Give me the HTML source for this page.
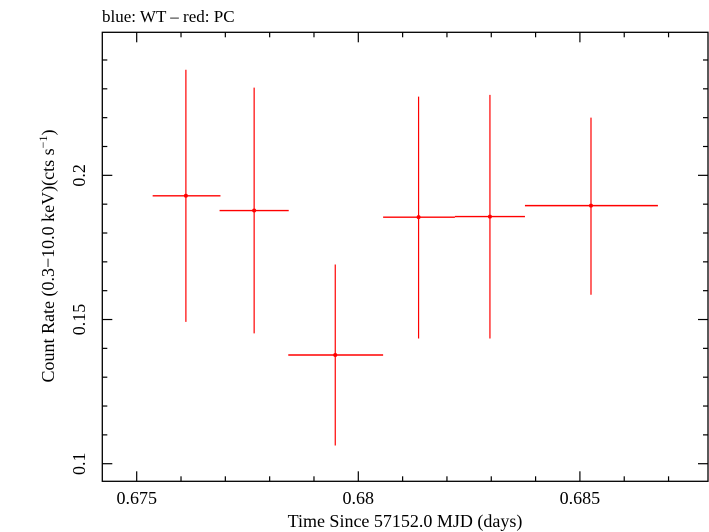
<!DOCTYPE html>
<html><head><meta charset="utf-8">
<style>
html,body{margin:0;padding:0;background:#fff;}
svg{display:block;font-family:"Liberation Serif",serif;}
</style></head>
<body>
<svg id="chart" width="709" height="532" viewBox="0 0 709 532" xmlns="http://www.w3.org/2000/svg">
<text x="102" y="22" font-size="17">blue: WT – red: PC</text>
<rect x="102.3" y="32.3" width="605.7" height="449" fill="none" stroke="#000" stroke-width="1.3"/>
<g id="axes"></g>
<g id="marks"></g>
<text x="405" y="527" font-size="18" text-anchor="middle">Time Since 57152.0 MJD (days)</text>
<text transform="translate(54,256) rotate(-90)" font-size="18" text-anchor="middle">Count Rate (0.3−10.0 keV)(cts s<tspan font-size="12" dy="-7">−1</tspan><tspan dy="7">)</tspan></text>
</svg>
<script>
const times=[0.67611,0.67765,0.67948,0.68136,0.68297,0.68525];
const timeLo=[0.67536,0.67687,0.67842,0.68056,0.68218,0.68376];
const timeHi=[0.67689,0.67843,0.68056,0.68218,0.68376,0.68676];
const rates=[0.1929,0.1878,0.1377,0.1855,0.1857,0.1895];
const rateHi=[0.2366,0.2304,0.1691,0.2273,0.2279,0.2200];
const rateLo=[0.1492,0.1452,0.1063,0.1434,0.1434,0.1586];
const xTickLabels=["0.675","0.68","0.685"];
const xTickValues=[0.675,0.68,0.685];
const yTickLabels=["0.1","0.15","0.2"];
const yTickValues=[0.1,0.15,0.2];

const NS="http://www.w3.org/2000/svg";
const L=102.3,R=708,T=32.3,B=481.3;
const x0=0.674224,x1=0.68789,y0=0.0939,y1=0.2496;
function xs(v){return L+(v-x0)/(x1-x0)*(R-L);}
function ys(v){return B-(v-y0)/(y1-y0)*(B-T);}
function mk(tag,attrs,parent){const e=document.createElementNS(NS,tag);for(const k in attrs)e.setAttribute(k,attrs[k]);parent.appendChild(e);return e;}
const axes=document.getElementById('axes'),marks=document.getElementById('marks');
// x ticks
for(let i=0;i<=13;i++){const v=0.675+i*0.001;if(v>x1)break;const x=xs(v);const major=(i%5===0);
 const t1=mk('line',{x1:x,x2:x,y1:B,y2:B-(major?10:5),stroke:'#000','stroke-width':1.2},axes);
 
 
 const t2=mk('line',{x1:x,x2:x,y1:T,y2:T+(major?10:5),stroke:'#000','stroke-width':1.2},axes);
 
 }
xTickValues.forEach((v,i)=>{const t=mk('text',{x:xs(v),y:504,'font-size':18,'text-anchor':'middle'},axes);t.textContent=xTickLabels[i];
 
 });
// y ticks
for(let i=0;i<=15;i++){const v=0.1+i*0.01;if(v>y1)break;const y=ys(v);const major=(i%5===0);
 const t1=mk('line',{x1:L,x2:L+(major?10:5),y1:y,y2:y,stroke:'#000','stroke-width':1.2},axes);
 
 
 const t2=mk('line',{x1:R,x2:R-(major?10:5),y1:y,y2:y,stroke:'#000','stroke-width':1.2},axes);
 
 }
yTickValues.forEach((v,i)=>{const t=mk('text',{transform:`translate(85,${ys(v)}) rotate(-90)`,'font-size':18,'text-anchor':'middle'},axes);t.textContent=yTickLabels[i];
 
 });
// data
times.forEach((t,i)=>{
 const g=mk('g',{},marks);
 
 
 mk('line',{x1:xs(timeLo[i]),x2:xs(timeHi[i]),y1:ys(rates[i]),y2:ys(rates[i]),stroke:'#f00','stroke-width':1.4},g);
 mk('line',{x1:xs(t),x2:xs(t),y1:ys(rateLo[i]),y2:ys(rateHi[i]),stroke:'#f00','stroke-width':1.2},g);
 mk('circle',{cx:xs(t),cy:ys(rates[i]),r:2,fill:'#f00'},g);
});
</script>
</body></html>
